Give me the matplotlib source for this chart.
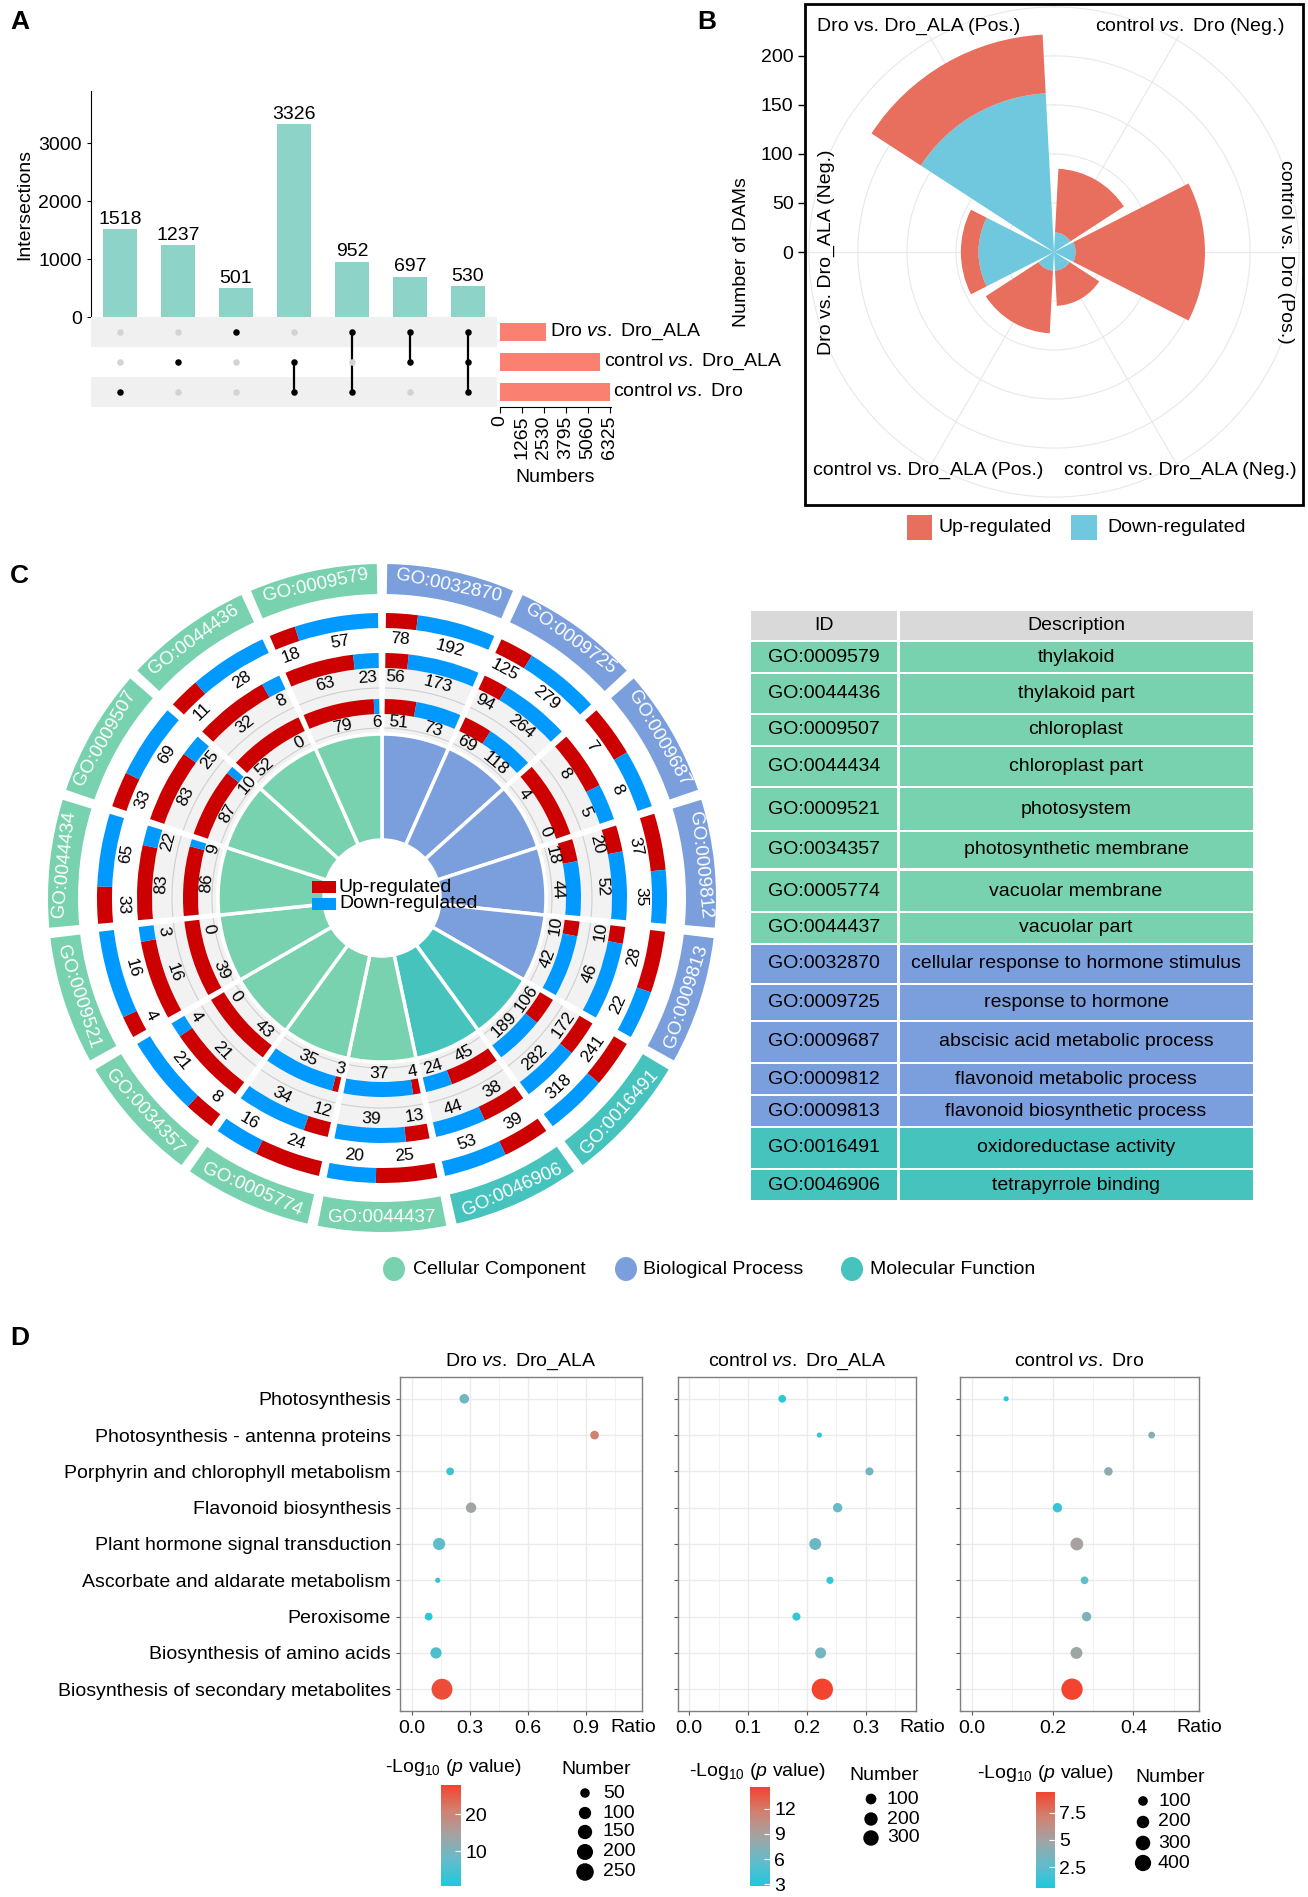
import numpy as np
import matplotlib
matplotlib.use('Agg')
import matplotlib.pyplot as plt
from matplotlib.patches import Wedge, Rectangle, Ellipse, Arc
from matplotlib.colors import LinearSegmentedColormap, Normalize
import matplotlib.cm as cm

plt.rcParams['font.family'] = ['Liberation Sans', 'DejaVu Sans']
plt.rcParams['mathtext.fontset'] = 'custom'
plt.rcParams['mathtext.rm'] = 'Liberation Sans'
plt.rcParams['mathtext.it'] = 'Liberation Sans:italic'
plt.rcParams['font.size'] = 14

# ---------------- data ----------------
# A: upset plot
inter_counts = [1518, 1237, 501, 3326, 952, 697, 530]
inter_sets = [[2], [1], [0], [1, 2], [0, 2], [0, 1], [0, 1, 2]]
set_names = ['Dro $\\mathit{vs.}$ Dro_ALA', 'control $\\mathit{vs.}$ Dro_ALA', 'control $\\mathit{vs.}$ Dro']
set_ticks = [0, 1265, 2530, 3795, 5060, 6325]

# B: rose chart of DAMs
dam_groups = ['control $\\mathit{vs.}$ Dro (Neg.)', 'control vs. Dro (Pos.)', 'control vs. Dro_ALA (Neg.)',
              'control vs. Dro_ALA (Pos.)', 'Dro vs. Dro_ALA (Neg.)', 'Dro vs. Dro_ALA (Pos.)']
dam_up = [65, 132, 36, 64, 18, 60]
dam_down = [20, 22, 19, 19, 77, 162]

# C: GO circle + table
table_ids = ['GO:0009579', 'GO:0044436', 'GO:0009507', 'GO:0044434', 'GO:0009521', 'GO:0034357',
             'GO:0005774', 'GO:0044437', 'GO:0032870', 'GO:0009725', 'GO:0009687', 'GO:0009812',
             'GO:0009813', 'GO:0016491', 'GO:0046906']
table_desc = ['thylakoid', 'thylakoid part', 'chloroplast', 'chloroplast part', 'photosystem',
              'photosynthetic membrane', 'vacuolar membrane', 'vacuolar part',
              'cellular response to hormone stimulus', 'response to hormone',
              'abscisic acid metabolic process', 'flavonoid metabolic process',
              'flavonoid biosynthetic process', 'oxidoreductase activity', 'tetrapyrrole binding']
table_cat = ['CC'] * 8 + ['BP'] * 5 + ['MF'] * 2
# circle goes clockwise from 12 o'clock
circle_ids = table_ids[8:] + table_ids[:8][::-1]
circle_cat = table_cat[8:] + table_cat[:8][::-1]
ring_up = [[51, 69, 4, 18, 10, 106, 45, 4, 3, 43, 39, 86, 87, 52, 79],
           [56, 94, 8, 20, 10, 172, 38, 13, 12, 21, 16, 83, 83, 32, 63],
           [78, 125, 7, 37, 28, 241, 39, 25, 24, 8, 4, 33, 33, 11, 18]]
ring_down = [[73, 118, 0, 44, 42, 189, 24, 37, 35, 0, 0, 9, 10, 0, 6],
             [173, 264, 5, 52, 46, 282, 44, 39, 34, 4, 3, 22, 25, 8, 23],
             [192, 279, 8, 35, 22, 318, 53, 20, 16, 21, 16, 65, 69, 28, 57]]

# D: KEGG dot plots
kegg = ['Photosynthesis', 'Photosynthesis - antenna proteins', 'Porphyrin and chlorophyll metabolism',
        'Flavonoid biosynthesis', 'Plant hormone signal transduction', 'Ascorbate and aldarate metabolism',
        'Peroxisome', 'Biosynthesis of amino acids', 'Biosynthesis of secondary metabolites']
d_titles = ['Dro $\\mathit{vs.}$ Dro_ALA', 'control $\\mathit{vs.}$ Dro_ALA', 'control $\\mathit{vs.}$ Dro']
d_ratio = [[0.272, 0.945, 0.199, 0.307, 0.142, 0.135, 0.088, 0.126, 0.157],
           [0.158, 0.221, 0.306, 0.252, 0.214, 0.239, 0.182, 0.223, 0.226],
           [0.085, 0.445, 0.338, 0.212, 0.260, 0.279, 0.284, 0.259, 0.248]]
d_num = [[51, 39, 29, 64, 98, 12, 29, 80, 385],
         [30, 6, 37, 64, 140, 23, 37, 109, 700],
         [31, 44, 73, 94, 213, 57, 94, 175, 780]]
d_logp = [[9, 21, 4, 14, 7, 3, 1.5, 5.5, 27],
          [3.3, 3.5, 6.5, 6.0, 6.2, 3.8, 3.6, 6.6, 14.6],
          [0.8, 4.0, 4.3, 1.5, 5.1, 2.8, 3.6, 4.8, 9.4]]
d_size_breaks = [[50, 100, 150, 200, 250], [100, 200, 300], [100, 200, 300, 400]]
d_color_ticks = [[10, 20], [3, 6, 9, 12], [2.5, 5, 7.5]]
d_xticks = [[0, 0.3, 0.6, 0.9], [0, 0.1, 0.2, 0.3], [0, 0.2, 0.4]]

# ---------------- layout helpers ----------------
W, H = 1308, 1897
fig = plt.figure(figsize=(W / 100, H / 100), dpi=100)


def fa(x0, y0, x1, y1):
    return [x0 / W, 1 - y1 / H, (x1 - x0) / W, (y1 - y0) / H]


def tan_rot(c):
    c = c % 360
    return 180 - c if 90 < c < 270 else -c


cat_col = {'CC': '#78D2B0', 'BP': '#7B9FDD', 'MF': '#45C3BC'}
RED, BLUE = '#CC0000', '#0099FF'

# ================= A =================
ax = fig.add_axes(fa(91, 91, 497, 317))
xs = np.arange(1, len(inter_counts) + 1)
ax.bar(xs, inter_counts, width=0.6, color='#8DD3C7')
for x, v in zip(xs, inter_counts):
    ax.text(x, v + 25, str(v), ha='center', va='bottom', fontsize=14)
ax.set_xlim(0.5, 7.5)
ax.set_ylim(0, 3900)
ax.set_yticks([0, 1000, 2000, 3000])
ax.set_xticks([])
for s in ['top', 'right', 'bottom']:
    ax.spines[s].set_visible(False)
ax.tick_params(axis='y', labelsize=14, length=3)
ax.set_ylabel('Intersections', fontsize=14, labelpad=4)

axm = fig.add_axes(fa(91, 317, 497, 407))
axm.set_xlim(0.5, 7.5)
axm.set_ylim(2.5, -0.5)
for r in (0, 2):
    axm.axhspan(r - 0.5, r + 0.5, color='#F0F0F0', lw=0)
for x, members in zip(xs, inter_sets):
    for r in range(3):
        axm.scatter(x, r, s=22, color='black' if r in members else '#D3D3D3', zorder=3, lw=0)
    if len(members) > 1:
        axm.plot([x, x], [min(members), max(members)], color='black', lw=1.6, zorder=2)
axm.axis('off')

set_sizes = [sum(c for c, m in zip(inter_counts, inter_sets) if k in m) for k in range(3)]
axs = fig.add_axes(fa(500, 317, 611, 407))
axs.barh(range(3), set_sizes, height=0.62, color='#FA8072')
for i, (v, nm) in enumerate(zip(set_sizes, set_names)):
    axs.text(v + 180, i, nm, va='center', ha='left', fontsize=14)
axs.set_ylim(2.5, -0.5)
axs.set_xlim(0, 6400)
axs.set_yticks([])
axs.set_xticks(set_ticks)
axs.set_xticklabels([str(t) for t in set_ticks], rotation=90)
axs.tick_params(axis='x', labelsize=14, length=4, pad=2)
for s in ['top', 'right', 'left']:
    axs.spines[s].set_visible(False)
axs.set_xlabel('Numbers', fontsize=14, labelpad=7)
axs.patch.set_alpha(0)

# ================= B =================
axp = fig.add_axes(fa(804, 2, 1304, 502), projection='polar')
axp.set_theta_zero_location('N')
axp.set_theta_direction(-1)
centers = np.deg2rad(np.arange(30, 360, 60))
bw = np.deg2rad(54)
axp.bar(centers, dam_down, width=bw, color='#6FC8DE', lw=0, zorder=3)
axp.bar(centers, dam_up, bottom=dam_down, width=bw, color='#E86F5E', lw=0, zorder=3)
axp.set_rlim(0, 255)
axp.set_xticks(centers)
axp.set_xticklabels([])
axp.set_yticks([50, 100, 150, 200, 250])
axp.set_yticklabels([])
axp.grid(color='#E8E8E8', lw=0.8)
axp.spines['polar'].set_visible(False)
axp.patch.set_alpha(0)
lab_pos = [(31, 268, 0), (90, 236, -90), (150, 257, 0), (210, 257, 0), (270, 232, 90), (329, 268, 0)]
for (th, rr, rot), g in zip(lab_pos, dam_groups):
    axp.text(np.deg2rad(th), rr, g, ha='center', va='center', rotation=rot, fontsize=14, clip_on=False)

axr = fig.add_axes(fa(804, 2, 1304, 502))
axr.set_ylim(-255, 255)
axr.set_xlim(0, 1)
axr.set_xticks([])
axr.set_yticks([0, 50, 100, 150, 200])
axr.tick_params(axis='y', labelsize=14, length=4, width=1)
for s in axr.spines.values():
    s.set_visible(False)
axr.patch.set_alpha(0)
axr.set_ylabel('Number of DAMs', fontsize=14, labelpad=8)

# ================= C circle =================
axc = fig.add_axes(fa(37, 553, 727, 1243))
axc.set_xlim(-345, 345)
axc.set_ylim(-345, 345)
axc.axis('off')
step = 360 / len(circle_ids)
g = 0.8
ring_r = [(184, 199, 176), (230, 245, 221), (270, 285, 259)]
for i, (gid, cat) in enumerate(zip(circle_ids, circle_cat)):
    a0, a1 = step * i, step * (i + 1)
    col = cat_col[cat]
    axc.add_patch(Wedge((0, 0), 164, 90 - a1, 90 - a0, width=164 - 58, facecolor=col,
                        edgecolor='white', lw=2.5))
    axc.add_patch(Wedge((0, 0), 245, 90 - (a1 - g), 90 - (a0 + g), width=245 - 166,
                        facecolor='#F2F2F2', edgecolor='none'))
    for rr in (170, 210):
        axc.add_patch(Arc((0, 0), 2 * rr, 2 * rr, theta1=90 - (a1 - g), theta2=90 - (a0 + g),
                          color='#CFCFCF', lw=0.8))
    # GO label ring
    axc.add_patch(Wedge((0, 0), 334, 90 - (a1 - 0.9), 90 - (a0 + 0.9), width=30, facecolor=col,
                        edgecolor='none'))
    cm_ = (a0 + a1) / 2
    axc.text(319.5 * np.sin(np.deg2rad(cm_)), 319.5 * np.cos(np.deg2rad(cm_)), gid, color='white',
             fontsize=13.5, ha='center', va='center', rotation=tan_rot(cm_), rotation_mode='anchor')
    for k in range(3):
        up, dn = ring_up[k][i], ring_down[k][i]
        rin, rout, rlab = ring_r[k]
        s0, s1 = a0 + g, a1 - g
        mid = s0 + (s1 - s0) * up / (up + dn)
        if up > 0:
            axc.add_patch(Wedge((0, 0), rout, 90 - mid, 90 - s0, width=rout - rin, facecolor=RED,
                                edgecolor='none'))
        if dn > 0:
            axc.add_patch(Wedge((0, 0), rout, 90 - s1, 90 - mid, width=rout - rin, facecolor=BLUE,
                                edgecolor='none'))
        pu, pd = (s0 + mid) / 2, (mid + s1) / 2
        if dn == 0:
            pu, pd = a0 + 6, a1 - 4
        elif pd - pu < 8:
            c0 = (pu + pd) / 2
            pu, pd = max(s0 + 2.5, c0 - 4), min(s1 - 1, c0 + 4)
        for p, v in ((pu, up), (pd, dn)):
            axc.text(rlab * np.sin(np.deg2rad(p)), rlab * np.cos(np.deg2rad(p)), str(v),
                     fontsize=12.5, ha='center', va='center', rotation=tan_rot(p),
                     rotation_mode='anchor')

axc.add_patch(Rectangle((-70, 5), 24, 12, facecolor=RED, edgecolor='none'))
axc.add_patch(Rectangle((-70, -12), 24, 12, facecolor=BLUE, edgecolor='none'))
axc.text(-43, 11, 'Up-regulated', fontsize=14, va='center', ha='left')
axc.text(-43, -6, 'Down-regulated', fontsize=14, va='center', ha='left')

# ================= overlay (px coords) =================
ov = fig.add_axes([0, 0, 1, 1])
ov.set_xlim(0, W)
ov.set_ylim(H, 0)
ov.axis('off')
ov.patch.set_alpha(0)

for lab, (x, y) in zip('ABCD', [(10, 22), (697, 22), (10, 576), (10, 1338)]):
    ov.text(x, y, lab, fontsize=19, fontweight='bold', ha='left', va='center')

# B box & legend
ov.add_patch(Rectangle((805, 4), 498, 501, fill=False, lw=2, edgecolor='black'))
ov.add_patch(Rectangle((907, 515), 25, 25, facecolor='#E86F5E', edgecolor='none'))
ov.text(938, 528, 'Up-regulated', fontsize=14, va='center')
ov.add_patch(Rectangle((1071, 515), 26, 25, facecolor='#6FC8DE', edgecolor='none'))
ov.text(1107, 528, 'Down-regulated', fontsize=14, va='center')

# C table
row_bounds = [(642, 672), (674, 713), (715, 745), (747, 786), (788, 830), (832, 868), (871, 911),
              (913, 943), (945, 983), (985, 1020), (1022, 1062), (1064, 1094), (1096, 1126),
              (1128, 1168), (1170, 1200)]
ov.add_patch(Rectangle((751, 611), 146, 29, facecolor='#D9D9D9', edgecolor='none'))
ov.add_patch(Rectangle((900, 611), 353, 29, facecolor='#D9D9D9', edgecolor='none'))
ov.text(824, 626, 'ID', fontsize=14, ha='center', va='center')
ov.text(1076, 626, 'Description', fontsize=14, ha='center', va='center')
for (t, b), gid, desc, cat in zip(row_bounds, table_ids, table_desc, table_cat):
    ov.add_patch(Rectangle((751, t), 146, b - t, facecolor=cat_col[cat], edgecolor='none'))
    ov.add_patch(Rectangle((900, t), 353, b - t, facecolor=cat_col[cat], edgecolor='none'))
    ov.text(824, (t + b) / 2, gid, fontsize=14, ha='center', va='center')
    ov.text(1076, (t + b) / 2, desc, fontsize=14, ha='center', va='center')

# C legend
for (cx, tx), nm, cat in zip([(394, 413), (626, 643), (852, 870)],
                             ['Cellular Component', 'Biological Process', 'Molecular Function'],
                             ['CC', 'BP', 'MF']):
    ov.add_patch(Ellipse((cx, 1269), 22, 24, facecolor=cat_col[cat], edgecolor='none'))
    ov.text(tx, 1269, nm, fontsize=14, va='center', ha='left')

# ================= D =================
cmap = LinearSegmentedColormap.from_list(
    'cg', [(0, '#1FC8DE'), (0.25, '#62BCCB'), (0.5, '#A3A3A3'), (0.75, '#D2806F'), (1, '#F2442F')])
d_boxes = [(400, 1377, 642, 1711), (678, 1377, 916, 1711), (960, 1377, 1199, 1711)]
d_xlims = [(-0.06, 1.19), (-0.019, 0.385), (-0.029, 0.562)]
d_minor = [0.15, 0.05, 0.1]
ratio_x = [0.963, 1.025, 1.0]
size_par = [(10, 390, 4.0, 21.0), (5, 700, 4.5, 21.3), (30, 780, 4.5, 21.3)]
norms = [(0.5, 28), (2.8, 14.6), (0.6, 9.4)]
cb_boxes = [(441, 1785, 461, 1886), (750, 1787, 770, 1886), (1036, 1792, 1055, 1888)]
cb_title = [(453, 1768), (757, 1771), (1045, 1773)]
num_title = [(596, 1769), (884, 1775), (1170, 1778)]
num_x = [(585, 603), (871, 887), (1143, 1158)]
num_rows = [[1793, 1813, 1832, 1852, 1872], [1799, 1819, 1838], [1801, 1822, 1843, 1863]]


def dot_px(v, p):
    lo, hi, dmin, dmax = p
    return dmin + (dmax - dmin) * np.sqrt(np.clip((np.asarray(v, float) - lo) / (hi - lo), 0, 1))


yy = np.arange(1, len(kegg) + 1)
for j in range(3):
    axd = fig.add_axes(fa(*d_boxes[j]))
    nrm = Normalize(*norms[j])
    sz = (0.72 * dot_px(d_num[j], size_par[j])) ** 2
    axd.scatter(d_ratio[j], yy, s=sz, c=d_logp[j], cmap=cmap, norm=nrm, lw=0, zorder=3)
    axd.set_ylim(9.6, 0.4)
    axd.set_xlim(*d_xlims[j])
    axd.set_yticks(yy)
    axd.set_yticklabels(kegg if j == 0 else [])
    axd.set_xticks(d_xticks[j])
    axd.set_xticklabels(['%.1f' % t for t in d_xticks[j]])
    mn = np.arange(d_minor[j], d_xlims[j][1], 2 * d_minor[j])
    axd.set_xticks(mn, minor=True)
    axd.tick_params(which='minor', length=0)
    axd.tick_params(which='major', labelsize=14, length=3, color='#555555')
    axd.grid(which='major', color='#EBEBEB', lw=1)
    axd.grid(which='minor', axis='x', color='#F2F2F2', lw=0.7)
    axd.set_axisbelow(True)
    for s in axd.spines.values():
        s.set_color('#7F7F7F')
        s.set_linewidth(1)
    axd.set_title(d_titles[j], fontsize=14, pad=8)
    axd.text(ratio_x[j], -0.05, 'Ratio', transform=axd.transAxes, ha='center', va='center', fontsize=14)

    cax = fig.add_axes(fa(*cb_boxes[j]))
    cb = fig.colorbar(cm.ScalarMappable(norm=nrm, cmap=cmap), cax=cax)
    cb.set_ticks(d_color_ticks[j])
    cb.set_ticklabels([('%g' % t) for t in d_color_ticks[j]])
    cb.outline.set_visible(False)
    cax.tick_params(direction='in', length=4, color='white', labelsize=14, pad=3)
    ov.text(*cb_title[j], '-Log$_{10}$ ($\\mathit{p}$ value)', fontsize=14, ha='center', va='center')
    ov.text(*num_title[j], 'Number', fontsize=14, ha='center', va='center')
    brk = d_size_breaks[j]
    ov.scatter([num_x[j][0]] * len(brk), num_rows[j], s=(0.72 * dot_px(brk, size_par[j])) ** 2,
               color='black', lw=0)
    for b, yv in zip(brk, num_rows[j]):
        ov.text(num_x[j][1], yv, str(b), fontsize=14, va='center', ha='left')

fig.savefig('out.png', dpi=100)
